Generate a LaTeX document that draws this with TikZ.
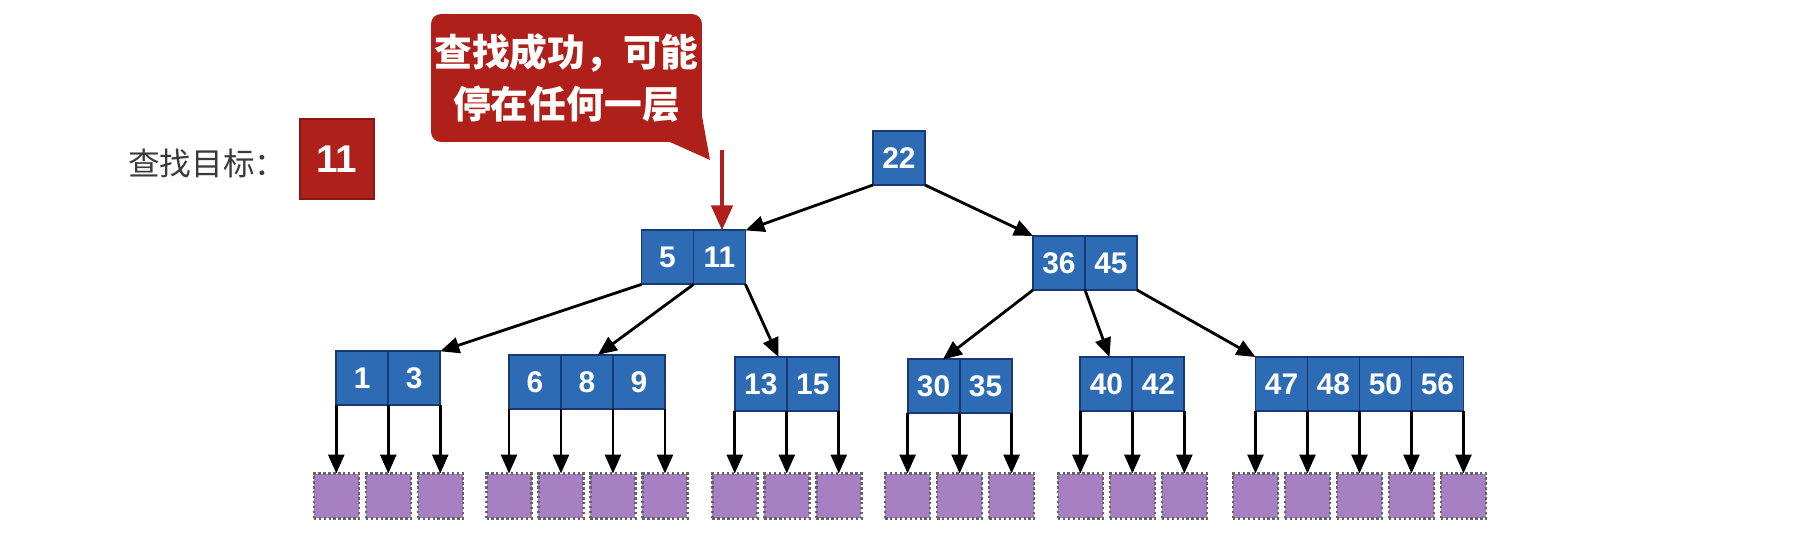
\documentclass[tikz,border=0pt]{standalone}
\usepackage{fontspec}
\setmainfont{Liberation Sans}
\newfontfamily\cjk{Noto Sans CJK SC}
\usetikzlibrary{arrows.meta,calc}
\definecolor{bluefill}{RGB}{45,108,180}
\definecolor{blueborder}{RGB}{24,58,115}
\definecolor{calloutred}{RGB}{176,32,26}
\definecolor{redborder}{RGB}{140,22,18}
\definecolor{leaffill}{RGB}{167,128,196}
\definecolor{leafborder}{RGB}{100,100,100}
\definecolor{labelgray}{RGB}{58,58,58}
\tikzset{
  cell/.style={draw=blueborder, fill=bluefill, line width=1.1pt, minimum width=1.04cm,
    minimum height=1.08cm, inner sep=0pt, outer sep=0pt, text=white,
    font=\bfseries\fontsize{17}{17}\selectfont},
  leafbox/.style={draw=leafborder, fill=leaffill, line width=1.4pt, outer sep=0pt,
    dash pattern=on 1.4pt off 1.4pt, minimum width=0.9cm, minimum height=0.9cm, inner sep=0pt},
  arr/.style={draw=black, line width=1.6pt, -{Triangle[length=0.38cm,width=0.32cm]}},
  redarr/.style={draw=calloutred, line width=2.6pt, -{Triangle[length=0.5cm,width=0.42cm]}},
}
\begin{document}
\begin{tikzpicture}[x=0.02cm,y=-0.02cm]
\useasboundingbox (0,0) rectangle (1806,537);

% search target
\node[anchor=west, text=labelgray, font=\cjk\fontsize{18}{18}\selectfont, inner sep=0pt] (lbl) at (128,163) {查找目标：};
\node[fill=calloutred, draw=redborder, line width=0.8pt, minimum width=1.48cm, minimum height=1.6cm,
  inner sep=0pt, text=white, font=\bfseries\fontsize{22}{22}\selectfont] (target) at (337,159) {11};

% callout
\node[fill=calloutred, rounded corners=0.2cm, minimum width=5.42cm, minimum height=2.56cm,
  inner sep=0pt, outer sep=0pt, text=white, align=center, font=\cjk\bfseries\fontsize{21.5}{30}\selectfont] (callout) at (566.5,78) {查找成功，可能\\停在任何一层};
\fill[calloutred] ($(callout.south east)+(-32,0)$) -- ($(callout.south east)+(0,-26)$) -- ($(callout.south east)+(8,18)$) -- cycle;

% root
\node[cell, anchor=north west] (R) at (873,131) {22};
% level 1
\node[cell, anchor=north west] (P1) at (641.5,230.4) {5};
\node[cell, anchor=west] (P2) at (P1.east) {11};
\node[cell, anchor=north west] (Q1) at (1033,236) {36};
\node[cell, anchor=west] (Q2) at (Q1.east) {45};
% level 2
\node[cell, anchor=north west] (A1) at (336.3,351.3) {1};
\node[cell, anchor=west] (A2) at (A1.east) {3};
\node[cell, anchor=north west] (B1) at (509,354.8) {6};
\node[cell, anchor=west] (B2) at (B1.east) {8};
\node[cell, anchor=west] (B3) at (B2.east) {9};
\node[cell, anchor=north west] (C1) at (734.8,357) {13};
\node[cell, anchor=west] (C2) at (C1.east) {15};
\node[cell, anchor=north west] (D1) at (907.6,359.4) {30};
\node[cell, anchor=west] (D2) at (D1.east) {35};
\node[cell, anchor=north west] (E1) at (1080.4,357) {40};
\node[cell, anchor=west] (E2) at (E1.east) {42};
\node[cell, anchor=north west] (F1) at (1255.5,357) {47};
\node[cell, anchor=west] (F2) at (F1.east) {48};
\node[cell, anchor=west] (F3) at (F2.east) {50};
\node[cell, anchor=west] (F4) at (F3.east) {56};

% red arrow
\coordinate (rs) at (722,150);
\draw[redarr] (rs) -- (rs |- P2.north);

% tree edges
\draw[arr] (R.south west) -- (P2.north east);
\draw[arr] (R.south east) -- (Q1.north west);
\draw[arr] (P1.south west) -- (A2.north east);
\draw[arr] (P1.south east) -- ($(B1.north west)!0.57!(B3.north east)$);
\draw[arr] (P2.south east) -- ($(C1.north west)!0.42!(C2.north east)$);
\draw[arr] (Q1.south west) -- ($(D1.north west)!0.34!(D2.north east)$);
\draw[arr] (Q1.south east) -- ($(E1.north west)!0.28!(E2.north east)$);
\draw[arr] (Q2.south east) -- (F1.north west);

% leaves
\coordinate (leafrow) at (0,496);
\foreach \p [count=\k] in {A1.south west, A1.south east, A2.south east,
  B1.south west, B1.south east, B2.south east, B3.south east,
  C1.south west, C1.south east, C2.south east,
  D1.south west, D1.south east, D2.south east,
  E1.south west, E1.south east, E2.south east,
  F1.south west, F1.south east, F2.south east, F3.south east, F4.south east} {
  \node[leafbox] (leaf\k) at (\p |- leafrow) {};
  \draw[arr] (\p) -- (leaf\k);
}
\end{tikzpicture}
\end{document}
